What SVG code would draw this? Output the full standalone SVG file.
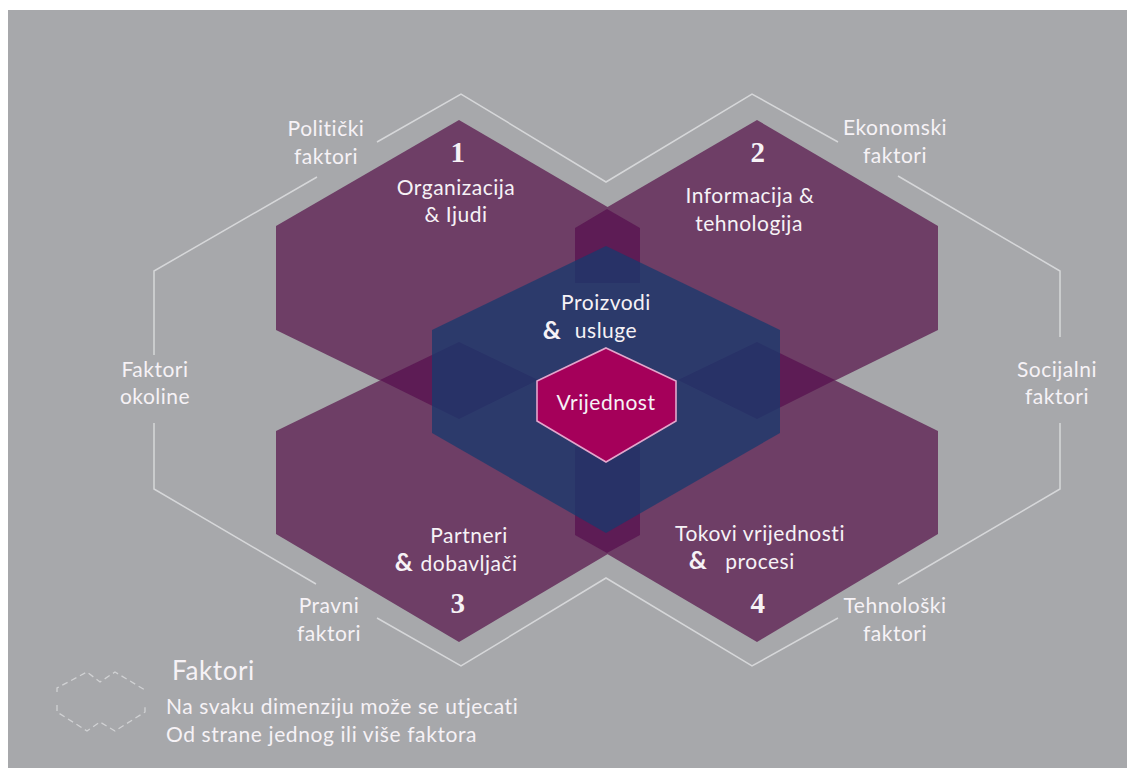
<svg xmlns="http://www.w3.org/2000/svg" width="1127" height="768" viewBox="0 0 1127 768">
<style>
text{font-family:"Lato","Liberation Sans",sans-serif;fill:#f6f2f6;text-anchor:middle;font-size:21px;letter-spacing:.5px}
.hex{fill:#6e3e66}
.ov{fill:#5d1c55}
.line{fill:none;stroke:#d6d7d9;stroke-width:1.5}
.dash{fill:none;stroke:#d0d1d3;stroke-width:1.3;stroke-dasharray:6 4}
.num{font-size:29px;font-weight:700;font-family:"Liberation Serif",serif}
.amp{font-size:25px;font-weight:700}
</style>
<rect width="1127" height="768" fill="#ffffff"/>
<rect x="8" y="10" width="1119" height="758" fill="#a7a8ab"/>
<g id="connectors">
<path class="line" d="M154 355V271L317 177M377 142L461 94L606 182L752 94L838 142M898 176L1060 271V337"/>
<path class="line" d="M154 423V489L316 584M377 618L461 666L606 578L752 666L838 618M898 584L1060 489V423"/>
</g>
<polygon class="hex" points="520,380 607,300 695,380 607,460"/>
<g id="dim1"><polygon class="hex" points="459,120 640,226 640,313 459,419 276,330 276,226"/></g>
<g id="dim2"><polygon class="hex" points="757,120 938,226 938,330 757,419 575,313 575,226"/></g>
<g id="dim3"><polygon class="hex" points="459,342 640,447 640,535 459,642 276,534 276,431"/></g>
<g id="dim4"><polygon class="hex" points="757,342 938,431 938,534 757,642 575,535 575,447"/></g>
<g id="overlaps">
<polygon class="ov" points="607,209 640,228 640,283 575,283 575,228"/>
<polygon class="ov" points="607,553 640,535 640,447 575,447 575,535"/>
<polygon class="ov" points="380,380 459,342 538,380 459,419"/>
<polygon class="ov" points="678,380 757,342 835,380 757,419"/>
</g>
<g id="labels">
<text class="num" x="458" y="162">1</text><text x="456" y="195">Organizacija</text><text x="456" y="222">&amp; Ijudi</text>
<text class="num" x="758" y="162">2</text><text x="750" y="203">Informacija &amp;</text><text x="749" y="231">tehnologija</text>
<text x="469" y="543">Partneri</text><text x="469" y="571">dobavljači</text><text class="amp" x="404" y="571">&amp;</text><text class="num" x="458" y="613">3</text>
<text x="760" y="541">Tokovi vrijednosti</text><text x="760" y="569">procesi</text><text class="amp" x="698" y="569">&amp;</text><text class="num" x="758" y="613">4</text>
</g>
<g id="products"><polygon points="606,246 780,330 780,433 606,533 432,433 432,330" fill="#173a6e" fill-opacity=".75"/><text x="606" y="310">Proizvodi</text><text x="606" y="338">usluge</text><text class="amp" x="552" y="339">&amp;</text></g>
<g id="value"><polygon points="606,348 676,381 676,421 606,462 537,421 537,381" fill="#a5005a" stroke="#e3a6cc" stroke-width="1.6"/><text x="606" y="410">Vrijednost</text></g>
<g id="legend">
<path class="dash" d="M57 692V688L87 672L100 682L115 672L145 690V692M57 705V712L87 731L100 722L115 731L145 712V705"/>
<text x="172" y="680" style="text-anchor:start;font-size:26px;letter-spacing:.6px">Faktori</text>
<text x="166" y="714" style="text-anchor:start;letter-spacing:.6px">Na svaku dimenziju može se utjecati</text>
<text x="166" y="742" style="text-anchor:start;letter-spacing:.6px">Od strane jednog ili više faktora</text>
</g>
<g id="factors">
<text x="326" y="136">Politički</text><text x="326" y="164">faktori</text>
<text x="895" y="135">Ekonomski</text><text x="895" y="163">faktori</text>
<text x="155" y="377">Faktori</text><text x="155" y="404">okoline</text>
<text x="1057" y="377">Socijalni</text><text x="1057" y="404">faktori</text>
<text x="329" y="613">Pravni</text><text x="329" y="641">faktori</text>
<text x="895" y="613">Tehnološki</text><text x="895" y="641">faktori</text>
</g>
</svg>
